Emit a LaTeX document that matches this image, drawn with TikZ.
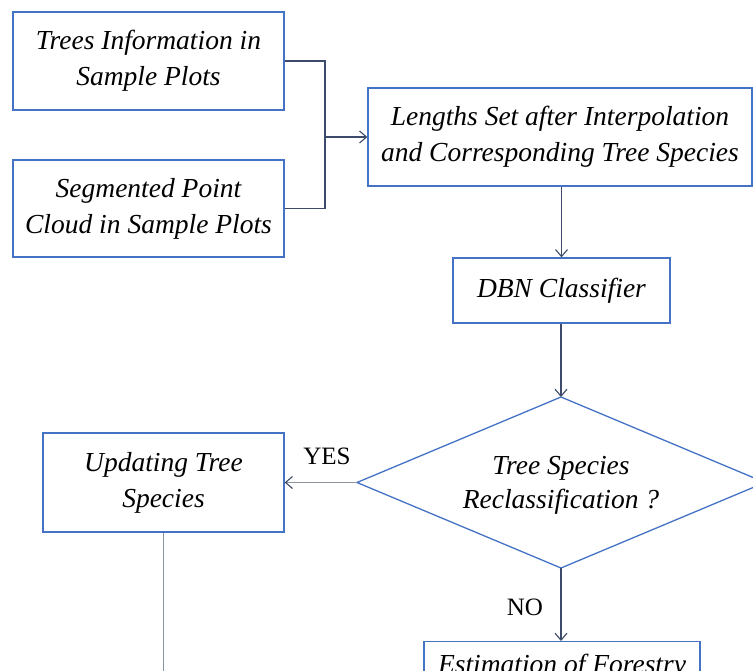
\documentclass[tikz,border=0pt]{standalone}
\usepackage{fontspec}
\setmainfont{Liberation Serif}
\usetikzlibrary{arrows.meta}
\definecolor{boxblue}{RGB}{68,114,196}
\definecolor{conncol}{RGB}{62,74,105}
\definecolor{graycol}{RGB}{140,148,158}
\tikzset{
  box/.style={draw=boxblue, line width=1.3pt, fill=white, align=center, inner sep=2pt,
    font=\itshape\fontsize{27.5}{36}\selectfont},
  conn/.style={draw=conncol, line width=1.3pt},
  arr/.style={conn, -{Straight Barb[length=7pt,width=12pt,line width=1.1pt]}},
  grayarr/.style={draw=graycol, line width=1.6pt, -{Straight Barb[length=7pt,width=12pt,line width=1.1pt,color=conncol]}},
  grayline/.style={draw=graycol, line width=1.6pt},
  lab/.style={font=\fontsize{25}{30}\selectfont, inner sep=0pt}
}
\begin{document}
\begin{tikzpicture}[x=1pt,y=-1pt]
\useasboundingbox (0,0) rectangle (753,670);
\clip (0,0) rectangle (753,670);
\fill[white] (0,0) rectangle (753,670);
\node[box, minimum width=271pt, minimum height=98pt] (A) at (148.5,61) {Trees Information in\\Sample Plots};
\node[box, minimum width=271pt, minimum height=97pt] (B) at (148.5,208.5) {Segmented Point\\Cloud in Sample Plots};
\node[box, minimum width=384pt, minimum height=98pt] (C) at (560,137) {Lengths Set after Interpolation\\and Corresponding Tree Species};
\node[box, minimum width=217pt, minimum height=65pt] (D) at (561.5,290.5) {DBN Classifier};
% decision diamond
\coordinate (Qn) at (561,397);
\coordinate (Qs) at (561,568);
\coordinate (Qw) at (357,482.5);
\coordinate (Qe) at (765,482.5);
\draw[draw=boxblue, line width=1.3pt, fill=white] (Qn) -- (Qe) -- (Qs) -- (Qw) -- cycle;
\node[align=center, inner sep=0pt, font=\itshape\fontsize{27.5}{34}\selectfont] (Q) at (561,485) {Tree Species\\Reclassification ?};
\node[box, minimum width=241pt, minimum height=99pt] (E) at (163.5,482.5) {Updating Tree\\Species};
\node[box, anchor=north, minimum width=276pt, minimum height=50pt] (F) at (562,641) {Estimation of Forestry};
\coordinate (J) at (325,137);
\coordinate (Eend) at (163.5,690);
\draw[conn] (A.east) -| (J);
\draw[conn] (B.east) -| (J);
\draw[arr] (J) -- (C.west);
\draw[arr] (C.south -| D.north) -- (D.north);
\draw[arr] (D.south -| Qn) -- (Qn);
\draw[grayarr] (Qw) -- (E.east);
\draw[grayline] (E.south) -- (Eend);
\draw[arr] (Qs) -- (Qs |- F.north);
\node[lab] (yes) at (327,456) {YES};
\node[lab] (no) at (525,607) {NO};
\end{tikzpicture}
\end{document}
